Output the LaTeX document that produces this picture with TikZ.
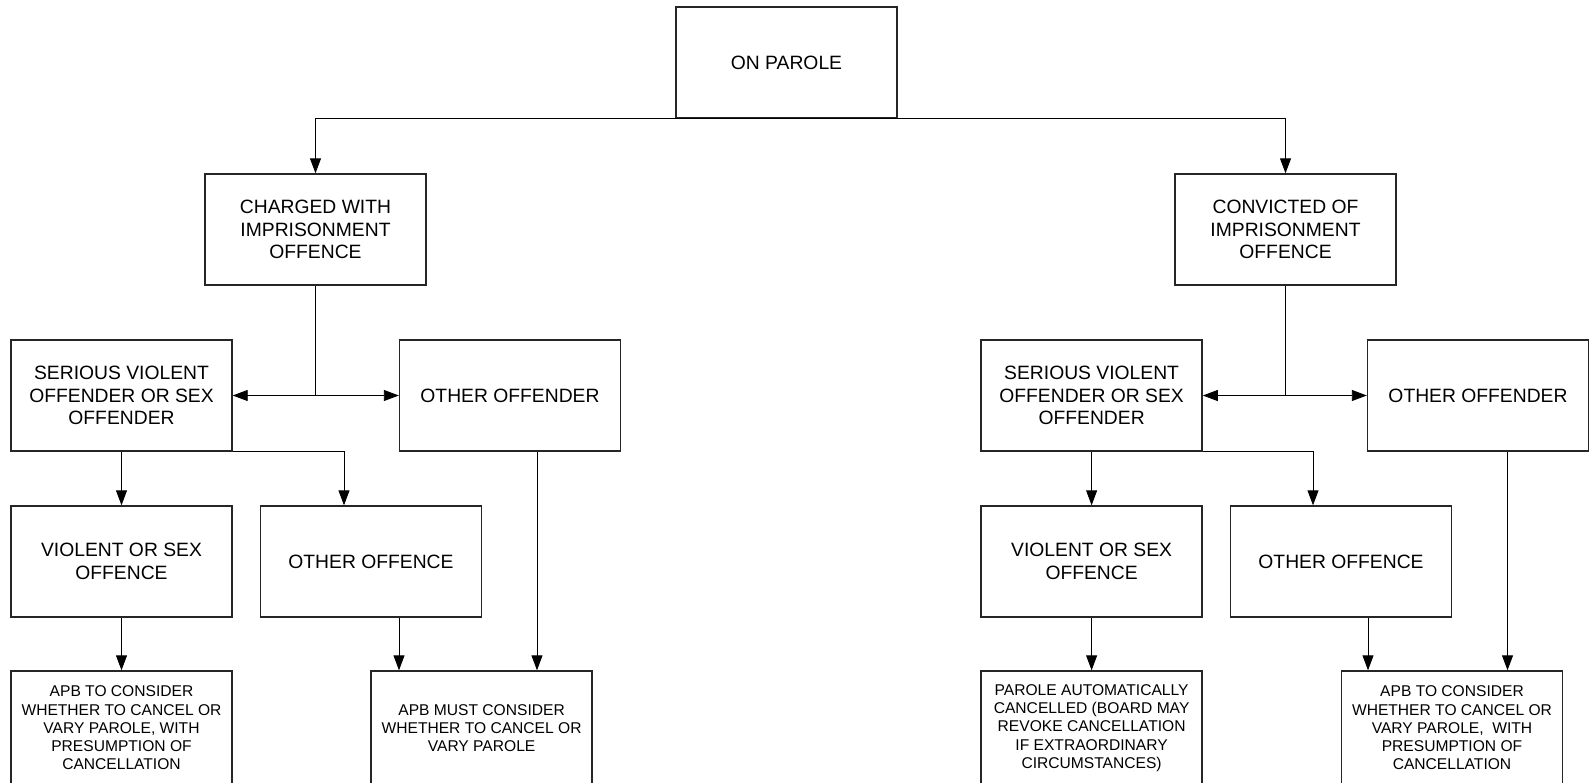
\documentclass[tikz,border=0pt]{standalone}
\usepackage{fontspec}
\setmainfont{Liberation Sans}
\usetikzlibrary{arrows.meta}
\begin{document}
\begin{tikzpicture}[x=0.5pt,y=-0.5pt,
 box/.style={draw=black!85, line width=0.7pt, minimum width=110.5pt, minimum height=55.5pt, inner sep=0pt, align=center, font=\fontsize{9.65pt}{11.3pt}\selectfont},
 sbox/.style={box, font=\fontsize{7.8pt}{9.15pt}\selectfont, minimum height=57pt},
 arr/.style={line width=0.45pt, -{Triangle[length=7.5pt,width=5.5pt]}},
 ln/.style={line width=0.45pt}]
\useasboundingbox (0,0) rectangle (1589,782);
% top
\node[box] (onp) at (786.5,62.5) {ON PAROLE};
\node[box] (chg) at (315.5,229.5) {CHARGED WITH\\IMPRISONMENT\\OFFENCE};
\node[box] (conv) at (1285.5,229.5) {CONVICTED OF\\IMPRISONMENT\\OFFENCE};
% left branch
\node[box] (svoL) at (121.5,395.5) {SERIOUS VIOLENT\\OFFENDER OR SEX\\OFFENDER};
\node[box] (ofdL) at (510,395.5) {OTHER OFFENDER};
\node[box] (vsL) at (121.5,561.5) {VIOLENT OR SEX\\OFFENCE};
\node[box] (ooL) at (371,561.5) {OTHER OFFENCE};
\node[sbox] (apbL) at (121.5,728) {APB TO CONSIDER\\WHETHER TO CANCEL OR\\VARY PAROLE, WITH\\PRESUMPTION OF\\CANCELLATION};
\node[sbox] (apbM) at (481.6,728) {APB MUST CONSIDER\\WHETHER TO CANCEL OR\\VARY PAROLE};
% right branch
\node[box] (svoR) at (1091.6,395.5) {SERIOUS VIOLENT\\OFFENDER OR SEX\\OFFENDER};
\node[box] (ofdR) at (1478,395.5) {OTHER OFFENDER};
\node[box] (vsR) at (1091.6,561.5) {VIOLENT OR SEX\\OFFENCE};
\node[box] (ooR) at (1341,561.5) {OTHER OFFENCE};
\node[sbox] (pac) at (1091.6,728) {PAROLE AUTOMATICALLY\\CANCELLED (BOARD MAY\\REVOKE CANCELLATION\\IF EXTRAORDINARY\\CIRCUMSTANCES)};
\node[sbox] (apbR) at (1452,728) {APB TO CONSIDER\\WHETHER TO CANCEL OR\\VARY PAROLE,~ WITH\\PRESUMPTION OF\\CANCELLATION};
% connectors top
\draw[arr] (onp.south) -| (chg.north);
\draw[arr] (onp.south) -| (conv.north);
% left
\draw[arr] (chg.south) |- (svoL.east);
\draw[arr] (chg.south) |- (ofdL.west);
\draw[arr] (svoL.south) -- (vsL.north);
\draw[arr] (svoL.south east) -| ([xshift=-13.5pt]ooL.north);
\draw[arr] (vsL.south) -- (apbL.north);
\draw[arr] ([xshift=14pt]ooL.south) -- ([xshift=14pt]ooL.south |- apbM.north);
\draw[arr] ([xshift=13.5pt]ofdL.south) -- ([xshift=13.5pt]ofdL.south |- apbM.north);
% right
\draw[arr] (conv.south) |- (svoR.east);
\draw[arr] (conv.south) |- (ofdR.west);
\draw[arr] (svoR.south) -- (vsR.north);
\draw[arr] (svoR.south east) -| ([xshift=-14pt]ooR.north);
\draw[arr] (vsR.south) -- (pac.north);
\draw[arr] ([xshift=13.5pt]ooR.south) -- ([xshift=13.5pt]ooR.south |- apbR.north);
\draw[arr] ([xshift=14.75pt]ofdR.south) -- ([xshift=14.75pt]ofdR.south |- apbR.north);
\end{tikzpicture}
\end{document}
